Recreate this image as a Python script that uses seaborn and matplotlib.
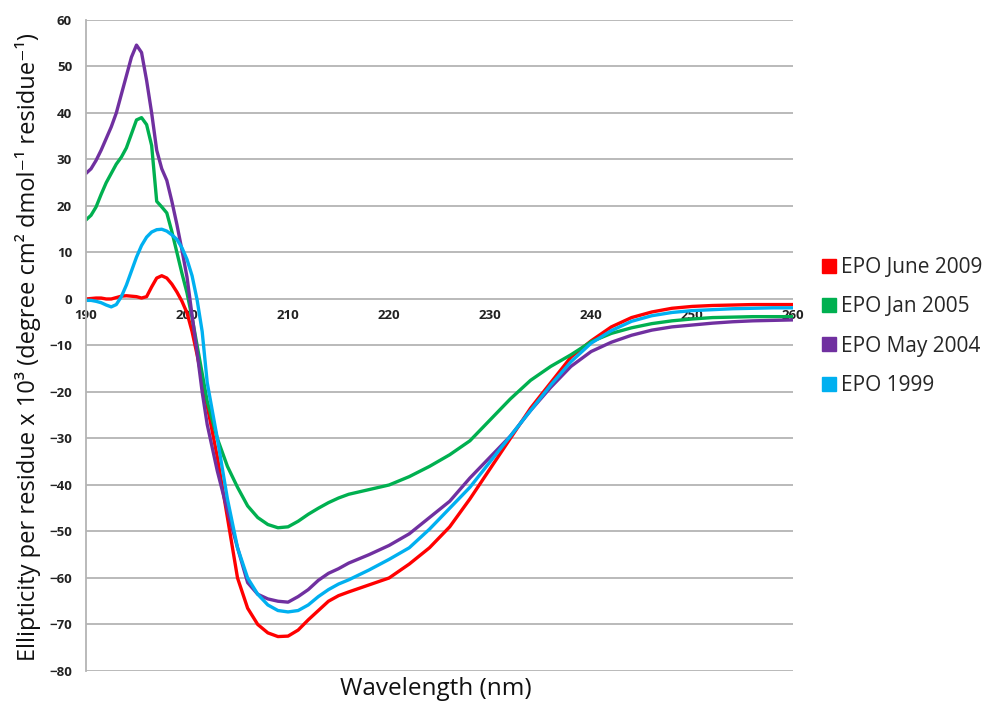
import numpy as np
import pandas as pd
import matplotlib
matplotlib.use("Agg")
import matplotlib.pyplot as plt
from matplotlib.lines import Line2D
import seaborn as sns

wavelength = [190, 190.5, 191, 191.5, 192, 192.5, 193, 193.5, 194, 194.5, 195, 195.5,
              196, 196.5, 197, 197.5, 198, 198.5, 199, 199.5, 200, 200.5, 201, 201.5, 202,
              203, 204, 205, 206, 207, 208, 209, 210, 211, 212, 213, 214, 215, 216,
              218, 220, 222, 224, 226, 228, 230, 232, 234, 236, 238, 240, 242, 244, 246,
              248, 250, 252, 254, 256, 258, 260]

epo_june_2009 = [0, 0.1, 0.2, 0.2, 0, 0, 0.3, 0.6, 0.7, 0.6, 0.5, 0.2,
                 0.5, 2.6, 4.5, 5, 4.5, 3.2, 1.5, -0.5, -3, -7, -12, -17.5, -23,
                 -34, -47, -60, -66.5, -70, -71.8, -72.6, -72.5, -71.2, -69, -67, -65, -63.8, -63,
                 -61.5, -60, -57, -53.5, -49, -43, -36.5, -30, -23.5, -18, -12.5, -9, -6, -4, -2.8,
                 -2, -1.6, -1.4, -1.3, -1.2, -1.2, -1.2]

epo_jan_2005 = [17, 18, 19.8, 22.5, 25, 27, 29, 30.5, 32.5, 35.5, 38.5, 39,
                37.5, 33, 21, 19.8, 18.5, 14.5, 10, 5.5, 1.3, -4, -10, -16, -22,
                -30, -36, -40.5, -44.5, -47, -48.5, -49.2, -49, -47.8, -46.3, -45, -43.8, -42.8, -42,
                -41, -40, -38.2, -36, -33.5, -30.5, -26, -21.5, -17.5, -14.5, -12, -9.2, -7.4, -6.2, -5.3,
                -4.7, -4.3, -4, -3.9, -3.8, -3.8, -3.8]

epo_may_2004 = [27, 28, 29.8, 32, 34.5, 37, 40, 44, 48, 52, 54.6, 53,
                47, 40, 32, 28, 25.5, 21, 16, 10.5, 4.7, -3.5, -11.5, -20, -27,
                -37, -45.5, -53.5, -61, -63.5, -64.5, -65, -65.2, -64, -62.5, -60.5, -59, -58, -56.8,
                -55, -53, -50.5, -47, -43.5, -38.5, -34, -29.5, -24, -19, -14.5, -11.3, -9.3, -7.8, -6.7,
                -6, -5.6, -5.2, -4.9, -4.7, -4.6, -4.5]

epo_1999 = [-0.3, -0.3, -0.5, -0.8, -1.3, -1.7, -1.2, 0.5, 3, 6, 9, 11.5,
            13.3, 14.4, 14.9, 15, 14.6, 13.8, 12.8, 11, 8.5, 5, -0.2, -7, -18,
            -30, -43, -53.5, -60, -63.5, -65.8, -67, -67.3, -67, -65.8, -64, -62.5, -61.3, -60.4,
            -58.3, -56, -53.5, -49.5, -45, -40.5, -35, -29.5, -24, -18.5, -13.5, -9.5, -6.8, -4.8, -3.6,
            -2.9, -2.5, -2.3, -2.1, -2, -1.9, -1.9]

series_names = ["EPO June 2009", "EPO Jan 2005", "EPO May 2004", "EPO 1999"]
series_values = [epo_june_2009, epo_jan_2005, epo_may_2004, epo_1999]
colors = ["#ff0000", "#00b050", "#7030a0", "#00b0f0"]

x_ticks = [190, 200, 210, 220, 230, 240, 250, 260]
y_ticks = [-80, -70, -60, -50, -40, -30, -20, -10, 0, 10, 20, 30, 40, 50, 60]

frames = []
for name, vals in zip(series_names, series_values):
    frames.append(pd.DataFrame({"Wavelength": wavelength, "Value": vals, "Series": name}))
df = pd.concat(frames, ignore_index=True)

sns.set_theme(style="white")
plt.rcParams["font.family"] = ["Open Sans", "DejaVu Sans"]
plt.rcParams["lines.solid_joinstyle"] = "round"
plt.rcParams["lines.solid_capstyle"] = "round"

fig = plt.figure(figsize=(9.94, 7.06), dpi=100)
ax = fig.add_axes([0.0865, 0.0496, 0.7115, 0.9221])

sns.lineplot(data=df, x="Wavelength", y="Value", hue="Series",
             palette=dict(zip(series_names, colors)), estimator=None, sort=False,
             linewidth=2.4, legend=False, ax=ax)

ax.set_xlim(190, 260)
ax.set_ylim(-80, 60)
ax.set_yticks(y_ticks)
ax.set_xticks(x_ticks)
ax.yaxis.grid(True, color="#b4b4b4", linewidth=1.3)
ax.xaxis.grid(False)
ax.set_axisbelow(True)

for s in ["top", "right"]:
    ax.spines[s].set_visible(False)
ax.spines["left"].set_color("#b4b4b4")
ax.spines["left"].set_linewidth(1.3)
ax.spines["bottom"].set_position(("data", 0))
ax.spines["bottom"].set_visible(False)

ax.tick_params(axis="y", length=0, pad=10)
ax.tick_params(axis="x", length=0, pad=7)
for lab in ax.get_yticklabels() + ax.get_xticklabels():
    lab.set_fontweight("bold")
    lab.set_fontsize(9.5)
    lab.set_color("#222222")

ax.set_xlabel("")
fig.text(436 / 994, 1 - 689 / 706, "Wavelength (nm)", fontsize=17.5,
         ha="center", va="center", color="#111111")
ax.set_ylabel("Ellipticity per residue x 10³ (degree cm² dmol⁻¹ residue⁻¹)",
              fontsize=17, color="#111111")
ax.yaxis.set_label_coords(-0.063, 0.498)

handles = [Line2D([0], [0], marker="s", linestyle="none", markersize=9.5,
                  markerfacecolor=c, markeredgecolor=c) for c in colors]
fig.legend(handles, series_names, loc="upper left", bbox_to_anchor=(0.815, 0.648),
           frameon=False, fontsize=15, labelspacing=0.88, handletextpad=0.1,
           handlelength=1.0, borderaxespad=0)

fig.savefig("out.png", dpi=100)
